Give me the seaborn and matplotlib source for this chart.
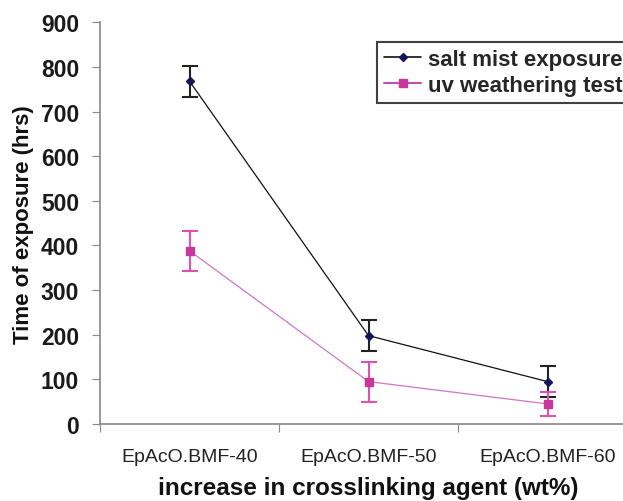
import numpy as np
import pandas as pd
import seaborn as sns
from matplotlib import pyplot as plt

#===== DATA =====================================
categories = ["EpAcO.BMF-40", "EpAcO.BMF-50", "EpAcO.BMF-60"]
salt_mist = [768, 198, 95]
salt_err = [35, 35, 35]
uv_test = [388, 95, 45]
uv_err = [45, 45, 26]
series_names = ["salt mist exposure", "uv weathering test"]

#===== PLOT =====================================
sns.set_style("ticks")
plt.rcParams["font.family"] = ["Liberation Sans", "DejaVu Sans"]

df = pd.DataFrame({
    "category": categories * 2,
    "hours": salt_mist + uv_test,
    "series": [series_names[0]] * len(categories) + [series_names[1]] * len(categories),
})

line_cols = {series_names[0]: "#111111", series_names[1]: "#cc77cc"}
mark_cols = {series_names[0]: "#14145a", series_names[1]: "#c8389c"}
err_cols = {series_names[0]: "#222222", series_names[1]: "#e050b0"}

fig = plt.figure(figsize=(6.23, 5.02), dpi=100)
ax = fig.add_axes([100 / 623, 77 / 502, 537 / 623, 401.7 / 502])

sns.lineplot(data=df, x="category", y="hours", hue="series", style="series",
             palette=line_cols, markers={series_names[0]: "D", series_names[1]: "s"},
             dashes=False, linewidth=0.9, markersize=0, ax=ax, legend=False, sort=False)

xpos = np.arange(len(categories))
for name, vals, errs, mk, ms in [(series_names[0], salt_mist, salt_err, "D", 4.5),
                                 (series_names[1], uv_test, uv_err, "s", 5.5)]:
    ax.errorbar(xpos, vals, yerr=errs, fmt="none", ecolor=err_cols[name],
                elinewidth=1.5, capsize=6, capthick=1.5, zorder=3)
    ax.plot(xpos, vals, linestyle="none", marker=mk, markersize=ms,
            color=mark_cols[name], zorder=4)

# legend handles
handles = [plt.Line2D([], [], color=line_cols[series_names[0]], lw=1.2, marker="D",
                      markersize=4, markerfacecolor=mark_cols[series_names[0]],
                      markeredgecolor=mark_cols[series_names[0]]),
           plt.Line2D([], [], color="#c050b0", lw=1.5, marker="s",
                      markersize=6, markerfacecolor=mark_cols[series_names[1]],
                      markeredgecolor=mark_cols[series_names[1]])]
leg = fig.legend(handles, series_names, loc="upper left",
                 bbox_to_anchor=(377 / 623, 1 - 43 / 502),
                 prop={"weight": "bold", "size": 16}, frameon=True, fancybox=False,
                 handlelength=1.7, handletextpad=0.3, borderpad=0.3,
                 labelspacing=0.25, borderaxespad=0)
leg.get_frame().set_edgecolor("#111111")
leg.get_frame().set_linewidth(1.5)

ax.set_xlim(-0.5, 2.5)
ax.set_ylim(0, 900)
ax.set_yticks(range(0, 901, 100))
ax.set_xticks([-0.5, 0.5, 1.5], minor=False)
ax.set_xticklabels([])
ax.tick_params(axis="x", length=6, color="#888888")
ax.set_xticks(xpos, minor=True)
ax.set_xticklabels(categories, minor=True, fontsize=14, color="#222222")
ax.tick_params(axis="x", which="minor", length=0, pad=17)
ax.tick_params(axis="y", length=6, color="#888888", pad=9)
for lab in ax.get_yticklabels():
    lab.set_fontweight("bold")
    lab.set_fontsize(16.5)
    lab.set_color("#1a1a1a")

sns.despine(ax=ax)
ax.spines["left"].set_color("#888888")
ax.spines["bottom"].set_color("#888888")
ax.spines["left"].set_linewidth(1.2)
ax.spines["bottom"].set_linewidth(1.2)

ax.set_ylabel("Time of exposure (hrs)", fontsize=16, fontweight="bold", color="#111111",
              va="center")
ax.yaxis.set_label_coords((24 - 100) / 537, 0.5)
ax.set_xlabel("increase in crosslinking agent (wt%)", fontsize=17.5, fontweight="bold",
              color="#111111", va="center")
ax.xaxis.set_label_coords(0.5, (425 - 489) / 401.7)

fig.savefig("out.png", dpi=100)
